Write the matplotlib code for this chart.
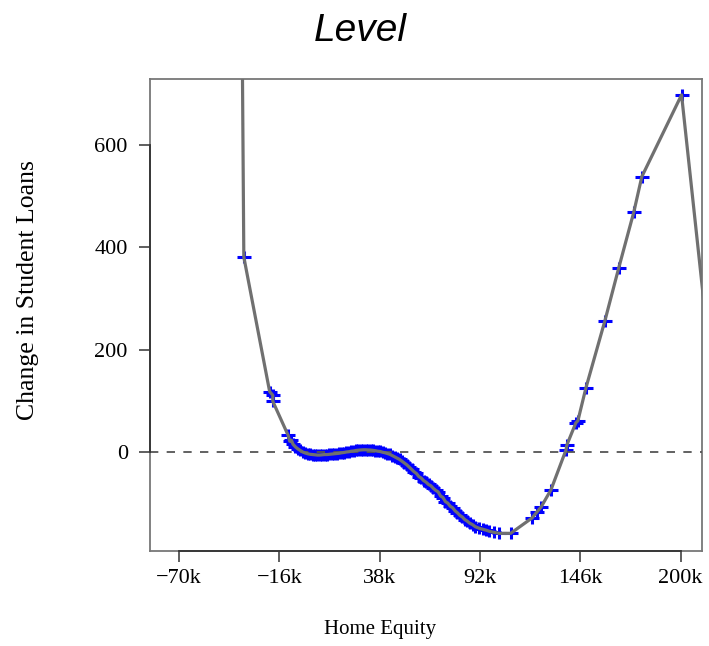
import matplotlib
matplotlib.use('Agg')
import matplotlib.pyplot as plt
from matplotlib.path import Path

plt.rcParams['lines.scale_dashes'] = False

# 推定値の曲線（Home Equity, 単位 k）
equity = [-37.4, -35.1, -21.2, -19.5, -19.5, -11.3, -10.4, -9.5, -8.6, -7.3,
          -6.0, -4.7, -3.4, -2.0, -0.7, 0.6, 1.9, 3.2, 4.5, 5.8,
          7.1, 8.4, 9.7, 11.0, 12.3, 13.6, 14.9, 16.2, 17.5, 18.8,
          20.1, 21.4, 22.7, 24.0, 25.3, 26.6, 27.9, 29.2, 30.5, 31.8,
          33.1, 34.4, 35.7, 37.0, 38.3, 39.6, 40.9, 42.2, 43.5, 44.8,
          46.1, 47.4, 48.7, 50.0, 51.3, 52.6, 53.9, 55.2, 56.5, 57.8,
          59.1, 60.4, 61.7, 63.0, 64.3, 65.6, 66.9, 68.2, 69.5, 70.8,
          72.1, 73.4, 74.7, 76.0, 77.3, 78.6, 79.9, 81.2, 82.5, 83.8,
          85.1, 86.4, 88.0, 89.5, 91.5, 93.5, 95.5, 97.0, 99.5, 102.3,
          108.5, 120.0, 122.7, 124.9, 130.2, 138.3, 138.8, 143.6, 144.7, 149.0,
          159.2, 166.7, 174.8, 179.1, 200.5, 220.0]
loans = [1500, 381, 118, 111, 99, 33, 21, 23, 15, 10,
         6, 3, 0, -2, -3.5, -4.5, -5, -5.5, -6, -6,
         -5.5, -5, -5, -4.5, -4, -3.5, -3, -2.5, -1.5, -1,
         0, 0.5, 1.5, 2, 3, 3.5, 4, 4.3, 4.3, 4,
         3.8, 3.2, 2.5, 1.5, 1, -0.5, -1.5, -3, -4.5, -7,
         -9.5, -12, -14.5, -18, -21.5, -25, -29.5, -34, -38.5, -42,
         -48, -51, -56, -59, -63.5, -66, -71, -75, -78, -86,
         -89, -97, -100, -106, -109, -115, -119, -124, -127, -132,
         -135, -139, -142, -146, -149, -151, -153, -155, -157, -159,
         -159, -129, -117, -107.5, -74, 4, 14, 57, 61, 125,
         256, 360, 469, 538, 698, 40]

xticks = [-70, -16, 38, 92, 146, 200]
xticklabels = ['\u221270k', '\u221216k', '38k', '92k', '146k', '200k']
yticks = [0, 200, 400, 600]

# 横長の「+」マーカー
plus = Path([(-1, 0), (1, 0), (0, -0.9), (0, 0.9)],
            [Path.MOVETO, Path.LINETO, Path.MOVETO, Path.LINETO])

fig = plt.figure(figsize=(7.09, 6.46), dpi=100)
ax = fig.add_axes([150 / 709, 1 - 551 / 646, 552 / 709, 472 / 646])

ax.plot(equity, loans, linestyle='none', marker=plus, markersize=10,
        markeredgewidth=2.2, color='#0000ff', zorder=2)
ax.axhline(0, color='#555555', linewidth=1.3, linestyle=(0, (6, 6)), zorder=3)
ax.plot(equity, loans, color='#707070', linewidth=2.3, zorder=4)

ax.set_xlim(-85.6, 211.5)
ax.set_ylim(-193.5, 729)

serif = 'Liberation Serif'
ax.set_xticks(xticks)
ax.set_xticklabels(xticklabels, fontfamily=serif, fontsize=16)
ax.set_yticks(yticks)
ax.set_yticklabels([str(v) for v in yticks], fontfamily=serif, fontsize=16)
ax.tick_params(axis='both', direction='out', length=8, width=1.1, color='#333333')
ax.tick_params(axis='x', pad=5)
ax.tick_params(axis='y', pad=8)

for s in ax.spines.values():
    s.set_color('#777777')
    s.set_linewidth(1.3)

# 軸線（最初の目盛りから最後の目盛りまで）
ax.plot([xticks[0], xticks[-1]], [0, 0], color='#333333', linewidth=1.3,
        transform=ax.get_xaxis_transform(), clip_on=False, zorder=5)
ax.plot([0, 0], [yticks[0], yticks[-1]], color='#333333', linewidth=1.3,
        transform=ax.get_yaxis_transform(), clip_on=False, zorder=5)

fig.text(360 / 709, 1 - 41 / 646, 'Level', ha='center', va='baseline',
         fontfamily='Liberation Sans', fontstyle='italic', fontsize=28)
fig.text(380 / 709, 1 - 634 / 646, 'Home Equity', ha='center', va='baseline',
         fontfamily=serif, fontsize=15)
fig.text(28 / 709, 1 - 290 / 646, 'Change in Student Loans', ha='center',
         va='center', rotation=90, fontfamily=serif, fontsize=18.5)

fig.savefig('out.png', dpi=100, facecolor='white')
